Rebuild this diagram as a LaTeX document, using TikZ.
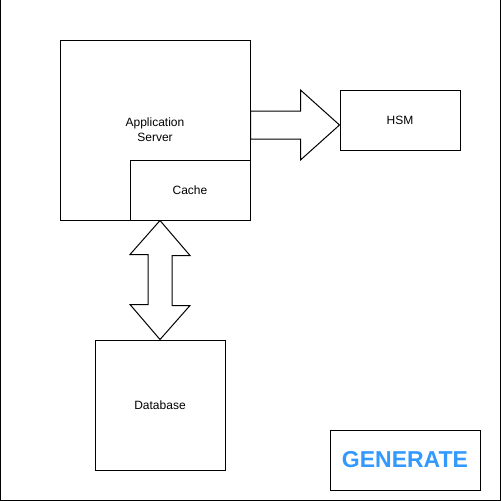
\documentclass[tikz,border=0pt]{standalone}
\usepackage{fontspec}
\setmainfont{Liberation Sans}
\usepackage{tikz}
\usetikzlibrary{calc}
\definecolor{genblue}{RGB}{51,153,255}

\tikzset{
  box/.style={draw, line width=1pt, fill=white, font=\fontsize{12}{15}\selectfont, align=center, inner sep=0pt},
  blockarrow/.style={draw, line width=1pt, fill=white, line join=miter}
}

\begin{document}
\begin{tikzpicture}[x=1pt, y=-1pt]
    \useasboundingbox (0,0) rectangle (501,501);
    % frame
    \draw[line width=1pt] (0.5,0) -- (0.5,500) -- (500,500) -- (500,0);

    % application server with its cache
    \node[box, minimum width=190pt, minimum height=180pt] (app) at (155,130) {Application\\Server};
    \node[box, minimum width=120pt, minimum height=60pt] (cache) at (190,190) {Cache};

    % HSM and database
    \node[box, minimum width=120pt, minimum height=60pt] (hsm) at (400,120) {HSM};
    \node[box, minimum width=130pt, minimum height=130pt] (db) at (160,405) {Database};

    % server -> HSM
    \draw[blockarrow] (app.east) ++(0,-19) -- ++(50,0) -- ++(0,-21) -- ($(hsm.west)+(0,5)$)
      -- ($(app.east)+(50,30)$) -- ($(app.east)+(50,9)$) -- ($(app.east)+(0,9)$) -- cycle;

    % cache <-> database
    \draw[blockarrow] (db.north |- cache.south) -- ++(30,35) -- ++(-18,0) -- ++(0,50) -- ++(18,0)
      -- (db.north) -- ++(-30,-35) -- ++(18,0) -- ++(0,-50) -- ++(-18,0) -- cycle;

    % button
    \node[draw, line width=1pt, minimum width=150pt, minimum height=60pt, inner sep=0pt,
      text=genblue, font=\fontsize{23}{27}\selectfont\bfseries] (gen) at (405,460) {GENERATE};
\end{tikzpicture}
\end{document}
